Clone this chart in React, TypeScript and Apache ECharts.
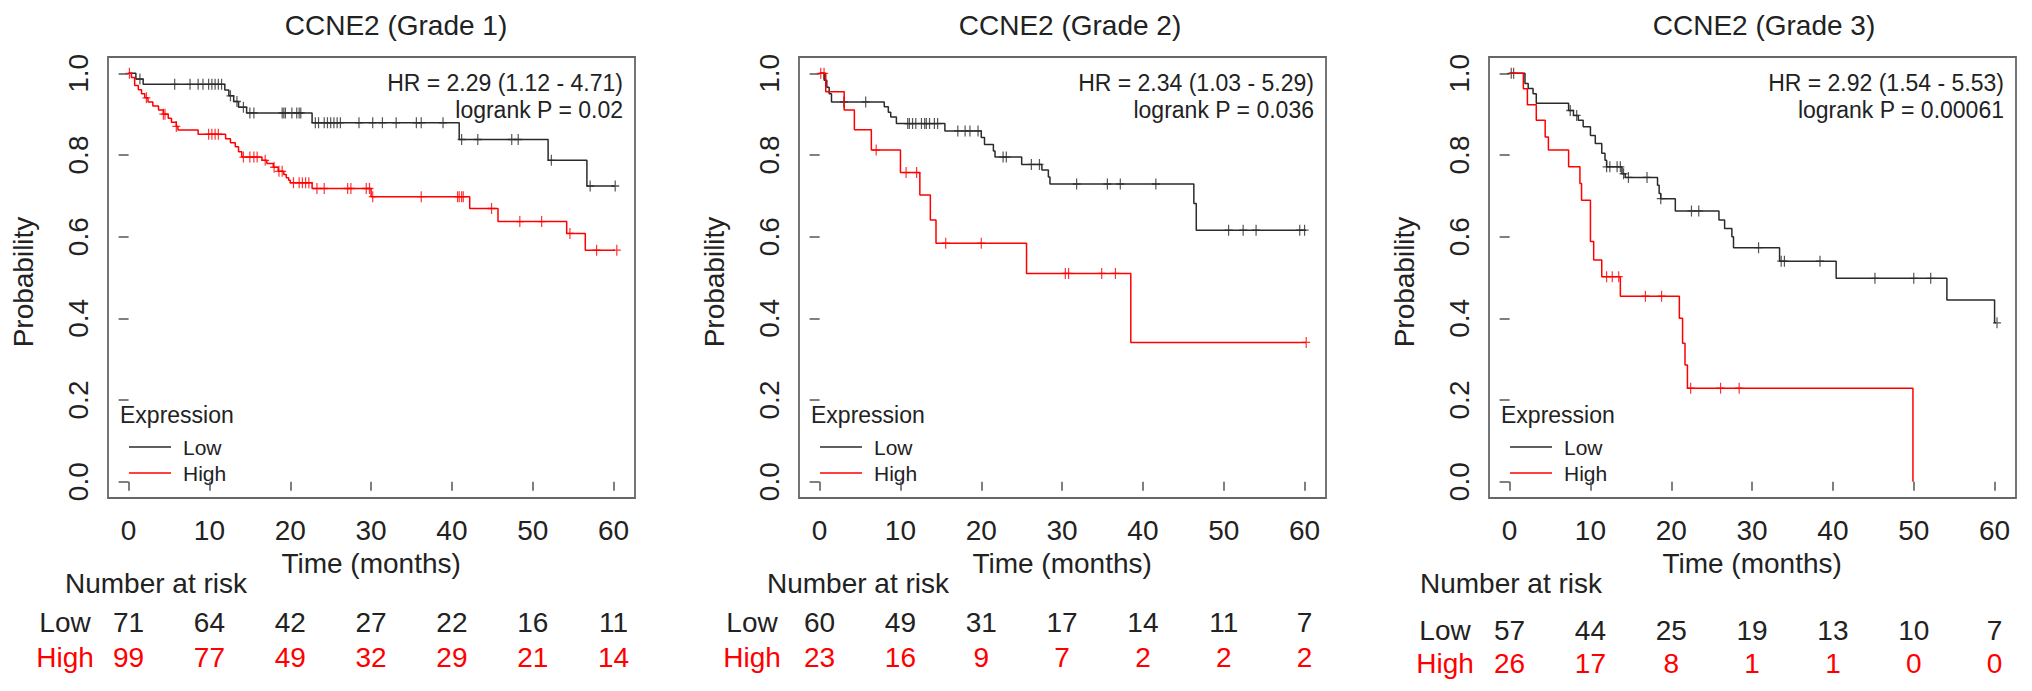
import React, { useEffect, useRef } from "react";
import * as echarts from "echarts";

// ---- texts ----
const titles = ["CCNE2 (Grade 1)", "CCNE2 (Grade 2)", "CCNE2 (Grade 3)"];
const hrLabels = ["HR = 2.29 (1.12 - 4.71)", "HR = 2.34 (1.03 - 5.29)", "HR = 2.92 (1.54 - 5.53)"];
const pLabels = ["logrank P = 0.02", "logrank P = 0.036", "logrank P = 0.00061"];
const riskTimes = [0, 10, 20, 30, 40, 50, 60];

// ---- Grade 1 ----
const g1LowTimes = [0, 0.9, 1.8, 11.9, 12.4, 13.0, 13.6, 14.6, 22.7, 40.9, 51.9, 56.7, 60.6];
const g1LowSurv = [1, 0.986, 0.973, 0.959, 0.945, 0.931, 0.917, 0.903, 0.879, 0.838, 0.787, 0.724, 0.724];
const g1LowCens = [1.4, 5.7, 7.6, 8.6, 9.2, 9.9, 10.3, 10.7, 11.1, 11.5, 12.6, 13.4, 14.2, 15.0, 15.5, 19.0, 19.2, 19.4, 20.2, 20.8, 21.1, 21.3, 23.1, 23.5, 24.2, 24.6, 25.0, 25.4, 25.8, 26.2, 28.5, 30.2, 31.4, 33.1, 35.6, 36.2, 38.9, 41.2, 43.2, 47.4, 48.2, 52.3, 57.1, 60.2];
const g1HighTimes = [0, 0.35, 0.75, 1.2, 1.6, 2.0, 2.4, 3.0, 3.7, 4.3, 4.9, 5.3, 5.9, 6.1, 8.6, 12.0, 12.6, 13.2, 13.6, 14.0, 16.5, 17.1, 17.9, 18.5, 19.2, 19.5, 19.8, 20.0, 22.7, 30.0, 42.2, 45.7, 54.2, 56.5, 60.6];
const g1HighSurv = [1, 0.99, 0.97, 0.96, 0.95, 0.94, 0.93, 0.92, 0.91, 0.9, 0.89, 0.88, 0.87, 0.861, 0.851, 0.84, 0.83, 0.82, 0.808, 0.795, 0.787, 0.779, 0.77, 0.76, 0.752, 0.744, 0.738, 0.732, 0.718, 0.698, 0.669, 0.637, 0.608, 0.567, 0.567];
const g1HighCens = [0.1, 2.2, 4.3, 4.5, 5.9, 9.9, 10.3, 10.7, 11.1, 14.2, 15.0, 15.5, 15.9, 16.9, 18.0, 18.6, 19.0, 20.4, 21.1, 21.5, 21.9, 22.3, 23.3, 24.2, 27.1, 27.5, 29.4, 29.8, 30.2, 36.2, 40.7, 40.9, 41.2, 41.4, 44.9, 48.4, 51.1, 54.6, 57.9, 60.4];
const g1RiskLow = [71, 64, 42, 27, 22, 16, 11];
const g1RiskHigh = [99, 77, 49, 32, 29, 21, 14];

// ---- Grade 2 ----
const g2LowTimes = [0, 0.56, 0.89, 1.18, 1.47, 8.0, 8.5, 8.8, 9.5, 15.5, 20.0, 20.4, 21.5, 21.7, 25.0, 27.5, 28.3, 28.5, 46.3, 46.6, 60.6];
const g2LowSurv = [1, 0.983, 0.966, 0.95, 0.93, 0.918, 0.905, 0.893, 0.877, 0.859, 0.843, 0.826, 0.81, 0.795, 0.777, 0.763, 0.746, 0.729, 0.681, 0.616, 0.616];
const g2LowCens = [3.0, 5.7, 10.9, 11.1, 11.5, 11.9, 12.6, 13.0, 13.2, 13.6, 14.2, 14.6, 17.1, 18.0, 18.6, 19.6, 22.7, 23.1, 26.2, 27.2, 31.8, 35.6, 37.2, 41.6, 50.6, 52.4, 54.0, 59.4, 60.0];
const g2HighTimes = [0, 0.76, 3.04, 4.3, 6.4, 10.0, 12.4, 13.7, 14.4, 25.6, 38.5, 60.2];
const g2HighSurv = [1, 0.955, 0.91, 0.862, 0.812, 0.757, 0.702, 0.641, 0.584, 0.51, 0.341, 0.341];
const g2HighCens = [0.14, 0.55, 7.0, 10.7, 12.0, 15.6, 20.0, 30.4, 30.8, 34.9, 36.6, 60.2];
const g2RiskLow = [60, 49, 31, 17, 14, 11, 7];
const g2RiskHigh = [23, 16, 9, 7, 2, 2, 2];

// ---- Grade 3 ----
const g3LowTimes = [0, 1.9, 2.3, 2.9, 3.3, 7.3, 7.9, 8.5, 9.1, 10.0, 10.6, 11.4, 11.8, 12.0, 13.9, 14.3, 18.3, 18.5, 18.7, 20.5, 25.9, 26.6, 27.5, 27.7, 33.4, 40.4, 54.1, 60.0, 60.3];
const g3LowSurv = [1, 0.975, 0.963, 0.95, 0.927, 0.909, 0.897, 0.885, 0.869, 0.848, 0.828, 0.804, 0.787, 0.771, 0.754, 0.745, 0.726, 0.706, 0.693, 0.663, 0.641, 0.62, 0.6, 0.573, 0.54, 0.498, 0.445, 0.389, 0.389];
const g3LowCens = [0.2, 0.5, 7.5, 8.3, 12.0, 12.4, 13.3, 13.7, 14.1, 14.7, 17.0, 18.7, 22.5, 23.4, 30.8, 33.6, 34.0, 38.4, 45.2, 50.0, 52.1, 60.3];
const g3HighTimes = [0, 1.7, 2.2, 3.3, 4.4, 4.8, 7.3, 8.7, 8.9, 10.0, 10.4, 11.4, 13.7, 21.0, 21.4, 21.7, 22.0, 49.9];
const g3HighSurv = [1, 0.962, 0.923, 0.885, 0.844, 0.812, 0.771, 0.73, 0.689, 0.588, 0.543, 0.502, 0.454, 0.4, 0.339, 0.286, 0.229, 0];
const g3HighCens = [12.0, 12.7, 13.5, 16.8, 18.8, 22.4, 26.1, 28.4];
const g3RiskLow = [57, 44, 25, 19, 13, 10, 7];
const g3RiskHigh = [26, 17, 8, 1, 1, 0, 0];

const panels = [
  { lowT: g1LowTimes, lowS: g1LowSurv, lowC: g1LowCens, highT: g1HighTimes, highS: g1HighSurv, highC: g1HighCens, riskLow: g1RiskLow, riskHigh: g1RiskHigh },
  { lowT: g2LowTimes, lowS: g2LowSurv, lowC: g2LowCens, highT: g2HighTimes, highS: g2HighSurv, highC: g2HighCens, riskLow: g2RiskLow, riskHigh: g2RiskHigh },
  { lowT: g3LowTimes, lowS: g3LowSurv, lowC: g3LowCens, highT: g3HighTimes, highS: g3HighSurv, highC: g3HighCens, riskLow: g3RiskLow, riskHigh: g3RiskHigh },
];

// layout (pixels)
const boxLeft = [108, 799, 1489];
const titleX = [396, 1070, 1764];
const riskHeadX = [65, 767, 1420];
const rowLabelX = [65, 752, 1445];
const rowLowY = [622, 622, 630];
const rowHighY = [657, 657, 663];
const BOX_TOP = 57;
const BOX_W = 527;
const BOX_H = 441;
const PX_PER_MONTH = BOX_W / 65.2;
const TICK0 = 2.55 * PX_PER_MONTH;
const PLOT_H = BOX_H / 1.08;
const PLOT_TOP = BOX_TOP + 0.04 * PLOT_H;

const FONT = '"Liberation Sans", Arial, Helvetica, sans-serif';
const TEXT = "#222";
const LOW = "#2b2b2b";
const HIGH = "#ff0000";
const PLUS = "path://M-0.6,-5H0.6V-0.6H4V0.6H0.6V5H-0.6V0.6H-4V-0.6H-0.6Z";

const survAt = (times: number[], surv: number[], t: number) => {
  let s = surv[0];
  for (let i = 0; i < times.length; i++) if (times[i] <= t) s = surv[i];
  return s;
};

const txt = (text: string, x: number, y: number, size: number, fill: string, align = "left", extra: any = {}) => ({
  type: "text",
  x,
  y,
  silent: true,
  ...extra,
  style: { text, x: 0, y: 0, fill, fontSize: size, fontFamily: FONT, align, verticalAlign: "middle" },
});

const App: React.FC = () => {
  const chartRef = useRef<HTMLDivElement>(null);

  useEffect(() => {
    if (!chartRef.current) return;
    const chart = echarts.init(chartRef.current, undefined, { renderer: "svg" });

    const grid: any[] = [];
    const xAxis: any[] = [];
    const yAxis: any[] = [];
    const series: any[] = [];

    panels.forEach((p, i) => {
      grid.push({ left: boxLeft[i] + TICK0, top: PLOT_TOP, width: 60 * PX_PER_MONTH, height: PLOT_H, containLabel: false });
      xAxis.push({
        type: "value",
        gridIndex: i,
        min: 0,
        max: 60,
        interval: 10,
        offset: BOX_TOP + BOX_H - (PLOT_TOP + PLOT_H),
        axisLine: { show: false },
        axisTick: { show: true, length: 9, lineStyle: { color: "#555", width: 1.5 } },
        axisLabel: { color: TEXT, fontSize: 28, fontFamily: FONT, margin: 18 },
        splitLine: { show: false },
      });
      yAxis.push({
        type: "value",
        gridIndex: i,
        min: 0,
        max: 1,
        interval: 0.2,
        offset: TICK0,
        axisLine: { show: false },
        axisTick: { show: true, length: 10, lineStyle: { color: "#555", width: 1.5 } },
        axisLabel: { color: TEXT, fontSize: 28, fontFamily: FONT, rotate: 90, margin: 16, formatter: (v: number) => v.toFixed(1) },
        splitLine: { show: false },
      });
      const lineBase = { type: "line", xAxisIndex: i, yAxisIndex: i, step: "end", symbol: "none", clip: false, silent: true };
      series.push({ ...lineBase, name: "Low", data: p.lowT.map((t, k) => [t, p.lowS[k]]), lineStyle: { color: LOW, width: 1.5 } });
      series.push({ ...lineBase, name: "High", data: p.highT.map((t, k) => [t, p.highS[k]]), lineStyle: { color: HIGH, width: 1.5 } });
      const scatBase = { type: "scatter", xAxisIndex: i, yAxisIndex: i, symbol: PLUS, symbolSize: [8, 11], clip: false, silent: true };
      series.push({ ...scatBase, data: p.lowC.map((t) => [t, survAt(p.lowT, p.lowS, t)]), itemStyle: { color: LOW } });
      series.push({ ...scatBase, data: p.highC.map((t) => [t, survAt(p.highT, p.highS, t)]), itemStyle: { color: HIGH } });
    });

    chart.setOption({ animation: false, backgroundColor: "#fff", grid, xAxis, yAxis, series });

    const graphic: any[] = [];
    panels.forEach((p, i) => {
      const L = boxLeft[i];
      graphic.push({
        type: "rect",
        silent: true,
        shape: { x: L, y: BOX_TOP, width: BOX_W, height: BOX_H },
        style: { fill: "none", stroke: "#666", lineWidth: 1.8 },
      });
      graphic.push(txt(titles[i], titleX[i], 25, 28, TEXT, "center"));
      graphic.push(txt(hrLabels[i], L + BOX_W - 12, 83, 23, TEXT, "right"));
      graphic.push(txt(pLabels[i], L + BOX_W - 12, 110, 23, TEXT, "right"));
      // legend
      graphic.push(txt("Expression", L + 12, 415, 23, TEXT));
      graphic.push({ type: "line", silent: true, shape: { x1: L + 21, y1: 447, x2: L + 63, y2: 447 }, style: { stroke: LOW, lineWidth: 1.5 } });
      graphic.push({ type: "line", silent: true, shape: { x1: L + 21, y1: 473, x2: L + 63, y2: 473 }, style: { stroke: HIGH, lineWidth: 1.5 } });
      graphic.push(txt("Low", L + 75, 447, 21, TEXT));
      graphic.push(txt("High", L + 75, 473, 21, TEXT));
      // axis titles
      const x30 = chart.convertToPixel({ xAxisIndex: i }, 30) as number;
      graphic.push(txt("Time (months)", x30, 563, 28, TEXT, "center"));
      graphic.push(txt("Probability", L - 85, 282, 28, TEXT, "center", { rotation: Math.PI / 2 }));
      // number at risk
      graphic.push(txt("Number at risk", riskHeadX[i], 583, 28, TEXT));
      graphic.push(txt("Low", rowLabelX[i], rowLowY[i], 28, TEXT, "center"));
      graphic.push(txt("High", rowLabelX[i], rowHighY[i], 28, HIGH, "center"));
      riskTimes.forEach((t, k) => {
        const x = chart.convertToPixel({ xAxisIndex: i }, t) as number;
        graphic.push(txt(String(p.riskLow[k]), x, rowLowY[i], 28, TEXT, "center"));
        graphic.push(txt(String(p.riskHigh[k]), x, rowHighY[i], 28, HIGH, "center"));
      });
    });
    chart.setOption({ graphic });

    const handleResize = () => chart.resize();
    window.addEventListener("resize", handleResize);
    return () => {
      window.removeEventListener("resize", handleResize);
      chart.dispose();
    };
  }, []);

  return (
    <div
      ref={chartRef}
      style={{ position: "absolute", left: 0, top: 0, width: "2032px", height: "691px", background: "#fff" }}
    />
  );
};

export default App;
